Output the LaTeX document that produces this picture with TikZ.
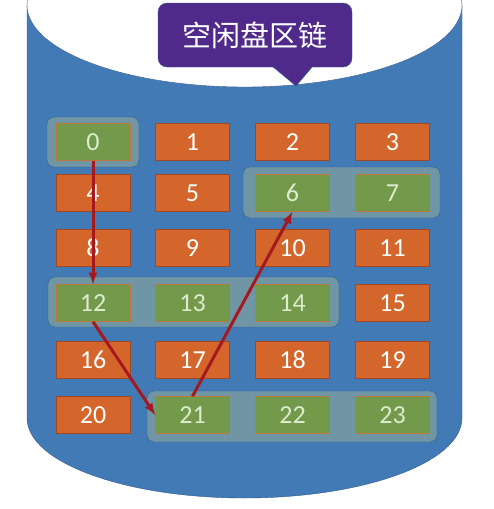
\documentclass[tikz,border=0pt]{standalone}
\usepackage{fontspec}
\setmainfont{Carlito}
\newfontfamily\cjk{Noto Sans CJK SC}
\usepackage{xcolor}
\definecolor{diskblue}{RGB}{66,122,182}
\definecolor{diskedge}{RGB}{47,90,140}
\definecolor{blockorange}{RGB}{212,102,43}
\definecolor{orangeedge}{RGB}{160,70,35}
\definecolor{blockgreen}{RGB}{115,154,75}
\definecolor{greenedge}{RGB}{190,120,60}
\definecolor{freetext}{RGB}{220,236,205}
\definecolor{groupteal}{RGB}{112,150,166}
\definecolor{chainred}{RGB}{165,25,30}
\definecolor{calloutpurple}{RGB}{80,42,138}

\begin{document}
\begin{tikzpicture}[x=1pt,y=-1pt]
					\tikzstyle{usedblock} = [rectangle,fill=blockorange,draw=orangeedge,minimum width=74pt,minimum height=37pt,inner sep=0pt,text=white,font=\fontsize{26}{26}\selectfont]
					\tikzstyle{freeblock} = [usedblock,fill=blockgreen,draw=greenedge,text=freetext]
					\tikzstyle{freegroup} = [fill=groupteal,draw=diskedge,rounded corners=7pt]
					\tikzstyle{link} = [-latex,line width=3pt,draw=chainred]
					\useasboundingbox (0,0) rectangle (494,509);
					% disk body
					\fill[diskblue] (27,5) -- (27,418) arc[start angle=180,end angle=0,x radius=217.5,y radius=80] -- (462,5) -- cycle;
					\draw[diskedge] (27,5) -- (27,418) arc[start angle=180,end angle=0,x radius=217.5,y radius=80] -- (462,5);
					\fill[white] (244.5,5) ellipse[x radius=217.5,y radius=82];
					\draw[diskedge,thin] (244.5,5) ellipse[x radius=217.5,y radius=82];
					% callout
					\fill[calloutpurple,draw=diskedge] (272,66) -- (296,86) -- (313,66) -- cycle;
					\node[fill=calloutpurple,draw=diskedge,rounded corners=9pt,minimum width=194pt,minimum height=64pt,text=white,font=\cjk\fontsize{29}{29}\selectfont] (title) at (255,35) {空闲盘区链};
					\fill[calloutpurple] (274,64) -- (296,84) -- (311,64) -- cycle;
					% free groups
					\draw[freegroup] (47,117) rectangle (139,167);
					\draw[freegroup] (243,167) rectangle (440,218);
					\draw[freegroup] (48,277) rectangle (339,327);
					\draw[freegroup] (147,391) rectangle (437,442);
					% blocks
					\node[freeblock] (b0) at (93,142) {0};
					\node[usedblock] (b1) at (192.5,142) {1};
					\node[usedblock] (b2) at (292.5,142) {2};
					\node[usedblock] (b3) at (392.5,142) {3};
					\node[usedblock] (b4) at (93,193) {4};
					\node[usedblock] (b5) at (192.5,193) {5};
					\node[freeblock] (b6) at (292.5,193) {6};
					\node[freeblock] (b7) at (392.5,193) {7};
					\node[usedblock] (b8) at (93,248) {8};
					\node[usedblock] (b9) at (192.5,248) {9};
					\node[usedblock] (b10) at (292.5,248) {10};
					\node[usedblock] (b11) at (392.5,248) {11};
					\node[freeblock] (b12) at (93,303) {12};
					\node[freeblock] (b13) at (192.5,303) {13};
					\node[freeblock] (b14) at (292.5,303) {14};
					\node[usedblock] (b15) at (392.5,303) {15};
					\node[usedblock] (b16) at (93,360) {16};
					\node[usedblock] (b17) at (192.5,360) {17};
					\node[usedblock] (b18) at (292.5,360) {18};
					\node[usedblock] (b19) at (392.5,360) {19};
					\node[usedblock] (b20) at (93,415) {20};
					\node[freeblock] (b21) at (192.5,415) {21};
					\node[freeblock] (b22) at (292.5,415) {22};
					\node[freeblock] (b23) at (392.5,415) {23};
					% chain
					\draw[link] (b0.south) -- (b12.north);
					\draw[link] (b12.south) -- (b21.west);
					\draw[link] (b21.north) -- (b6.south);
					\end{tikzpicture}
\end{document}
